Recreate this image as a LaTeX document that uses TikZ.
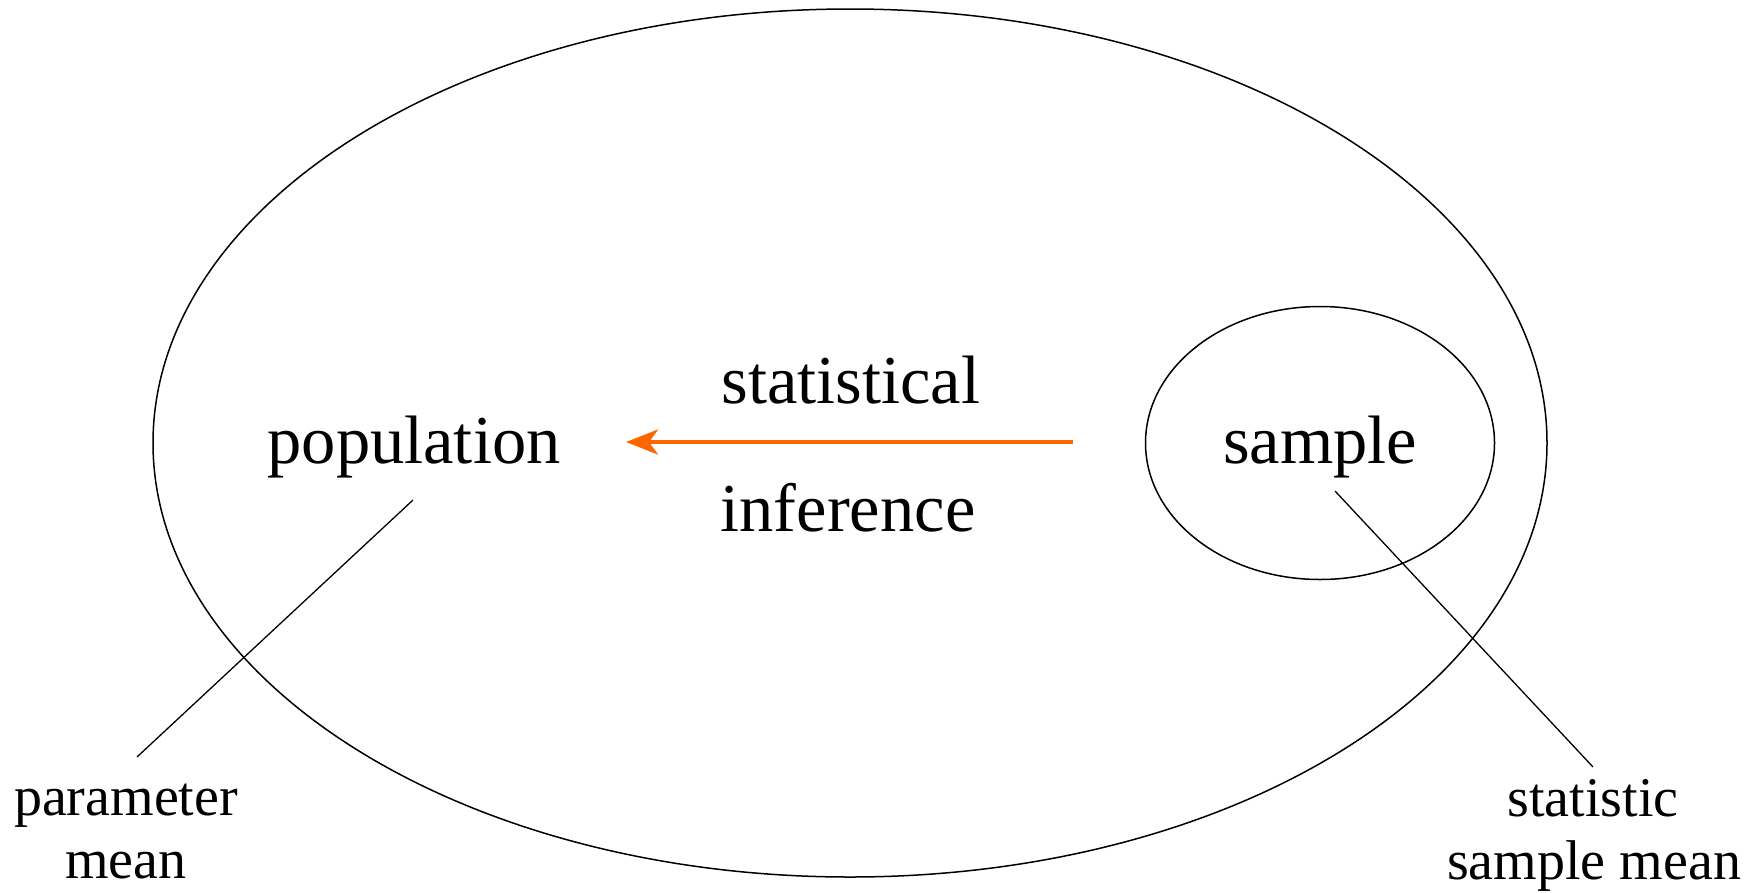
\documentclass[tikz,border=0pt]{standalone}
\usepackage{fontspec}
\setmainfont{Liberation Serif}
\usetikzlibrary{shapes.geometric,arrows.meta}
\definecolor{arroworange}{HTML}{FF6600}
\tikzset{
  bigtext/.style={anchor=base,inner sep=0pt,font=\fontsize{68.5}{80}\selectfont},
  smalltext/.style={anchor=base,inner sep=0pt,font=\fontsize{56}{65}\selectfont},
  region/.style={draw=black,ellipse,line width=1.5pt,inner sep=0pt},
  leader/.style={draw=black,line width=1.3pt},
  inferarrow/.style={draw=arroworange,line width=4pt,-{Stealth[length=32pt,width=25pt,inset=9pt]}}
}
\begin{document}
\begin{tikzpicture}[x=1pt,y=-1pt]
\useasboundingbox (0,0) rectangle (1763,892);
\node[region,minimum width=1394pt,minimum height=868pt] (pop) at (850,443) {};
\node[region,minimum width=349pt,minimum height=273pt] (samp) at (1320,443) {};
\node[bigtext] (poptext) at (414,463) {population};
\node[bigtext] (samptext) at (1320,463) {sample};
\node[bigtext] (stat) at (851,403) {statistical};
\node[bigtext] (infer) at (848,531) {inference};
\node[smalltext] (param) at (126,815) {parameter};
\node[smalltext] (pmean) at (126,878) {mean};
\node[smalltext] (statistic) at (1593,816) {statistic};
\node[smalltext] (smean) at (1594,879) {sample mean};
\coordinate (popfoot) at (413,500);
\coordinate (paramtop) at (137,757);
\coordinate (sampfoot) at (1335,491);
\coordinate (statistictop) at (1593,767);
\coordinate (arrowstart) at (1073,442);
\coordinate (arrowend) at (626,442);
\draw[leader] (popfoot) -- (paramtop);
\draw[leader] (sampfoot) -- (statistictop);
\draw[inferarrow] (arrowstart) -- (arrowend);
\end{tikzpicture}
\end{document}
